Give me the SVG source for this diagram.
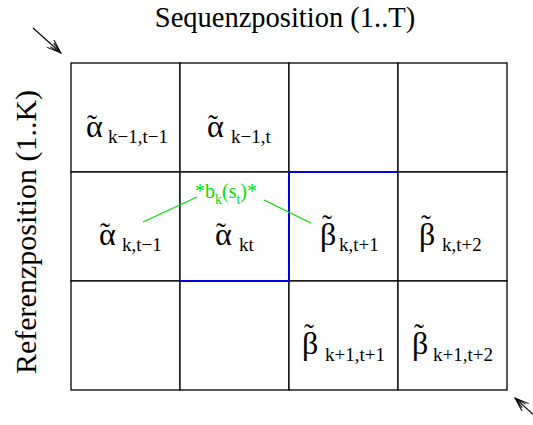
<svg xmlns="http://www.w3.org/2000/svg" width="533" height="425" viewBox="0 0 533 425">
<style>
.cell{fill:#fff;stroke:#000;stroke-width:1.3}
text{font-family:"Liberation Serif","Times New Roman","DejaVu Serif",serif}
.lbl{font-size:28.5px;fill:#000}
.g{font-size:32px;fill:#000}
.tl{font-size:30px}
.s{font-size:19px}
.gr{fill:#00e000}
.arr{stroke:#000;stroke-width:1.1;fill:none}
</style>
<defs>
<marker id="ah" markerWidth="16" markerHeight="12" refX="14" refY="6" orient="auto" markerUnits="userSpaceOnUse">
<path d="M0,1 L14,6 L0,11 M2,3.5 L14,6 L2,8.5" fill="none" stroke="#000" stroke-width="1"/>
</marker>
</defs>
<text class="lbl" x="285" y="27" text-anchor="middle">Sequenzposition (1..T)</text>
<text class="lbl" transform="translate(36,232) rotate(-90)" text-anchor="middle" style="font-size:30px">Referenzposition (1..K)</text>
<g id="cell-1-1"><rect class="cell" x="71" y="63" width="109" height="109"/>
<text class="g"><tspan class="tl" x="87" y="135">˜</tspan><tspan x="86" y="137">α</tspan><tspan class="s" x="108" y="143">k−1,t−1</tspan></text></g>
<g id="cell-1-2"><rect class="cell" x="180" y="63" width="109" height="109"/>
<text class="g"><tspan class="tl" x="208" y="135">˜</tspan><tspan x="207" y="137">α</tspan><tspan class="s" x="231" y="143">k−1,t</tspan></text></g>
<g id="cell-1-3"><rect class="cell" x="289" y="63" width="109" height="109"/></g>
<g id="cell-1-4"><rect class="cell" x="398" y="63" width="109" height="109"/></g>
<g id="cell-2-1"><rect class="cell" x="71" y="172" width="109" height="109"/>
<text class="g"><tspan class="tl" x="100" y="243">˜</tspan><tspan x="99" y="245">α</tspan><tspan class="s" x="122" y="251">k,t−1</tspan></text></g>
<g id="cell-2-2"><rect class="cell" x="180" y="172" width="109" height="109"/>
<text class="g"><tspan class="tl" x="216" y="243">˜</tspan><tspan x="215" y="245">α</tspan><tspan class="s" x="239" y="251">kt</tspan></text></g>
<g id="cell-2-3"><rect class="cell" x="289" y="172" width="109" height="109"/>
<text class="g"><tspan class="tl" x="322" y="235">˜</tspan><tspan x="320" y="245">β</tspan><tspan class="s" x="339" y="251">k,t+1</tspan></text></g>
<g id="cell-2-4"><rect class="cell" x="398" y="172" width="109" height="109"/>
<text class="g"><tspan class="tl" x="421" y="235">˜</tspan><tspan x="419" y="245">β</tspan><tspan class="s" x="442" y="251">k,t+2</tspan></text></g>
<g id="cell-3-1"><rect class="cell" x="71" y="281" width="109" height="109"/></g>
<g id="cell-3-2"><rect class="cell" x="180" y="281" width="109" height="109"/></g>
<g id="cell-3-3"><rect class="cell" x="289" y="281" width="109" height="109"/>
<text class="g"><tspan class="tl" x="304" y="344">˜</tspan><tspan x="302" y="354">β</tspan><tspan class="s" x="325" y="361">k+1,t+1</tspan></text></g>
<g id="cell-3-4"><rect class="cell" x="398" y="281" width="109" height="109"/>
<text class="g"><tspan class="tl" x="414" y="344">˜</tspan><tspan x="412" y="354">β</tspan><tspan class="s" x="433" y="361">k+1,t+2</tspan></text></g>
<g id="connectors">
<path d="M398,172 H289 V281 H180" fill="none" stroke="#0000dd" stroke-width="2"/>
<line x1="143" y1="222" x2="197" y2="197" stroke="#00e000" stroke-width="1.3"/>
<line x1="264" y1="200" x2="311" y2="223" stroke="#00e000" stroke-width="1.3"/>
<line class="arr" x1="33" y1="28" x2="61" y2="53" marker-end="url(#ah)"/>
<line class="arr" x1="535" y1="416" x2="515" y2="398" marker-end="url(#ah)"/>
</g>
<g id="label-b">
<text class="gr" x="195" y="198" style="font-size:20px">*b<tspan dy="6" style="font-size:14px">k</tspan><tspan dy="-6">(s</tspan><tspan dy="6" style="font-size:14px">t</tspan><tspan dy="-6">)*</tspan></text>
</g>
</svg>
